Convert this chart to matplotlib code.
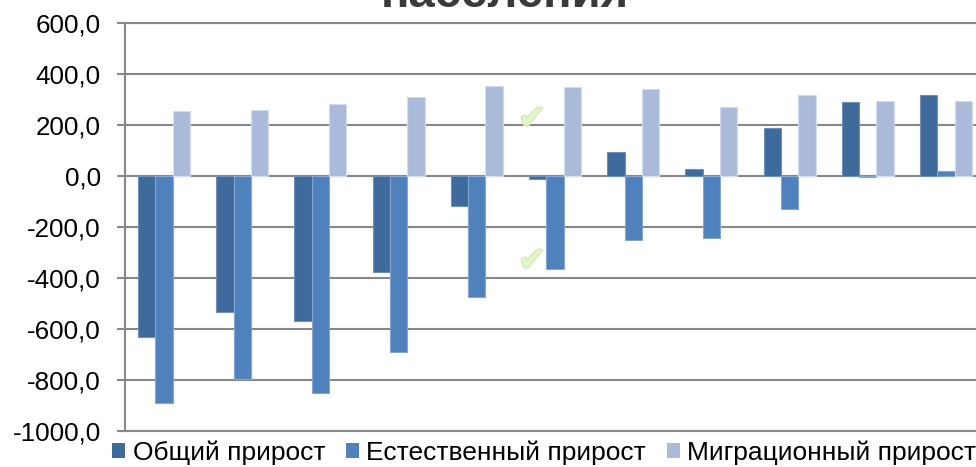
import numpy as np
from matplotlib import pyplot as plt
from matplotlib.patches import Patch
from matplotlib.ticker import FuncFormatter
import matplotlib.patheffects as pe

# Values
total = [-632, -535, -568, -377, -116, -12, 94, 29, 189, 290, 318]
natural = [-893, -798, -851, -693, -474, -364, -251, -242, -131, -4, 21]
migration = [257, 259, 282, 312, 354, 351, 343, 270, 318, 294, 295]
series_names = ['Общий прирост', 'Естественный прирост', 'Миграционный прирост']
colors = ['#3e6a9c', '#4f81bd', '#aabbd9']
edges = ['#6f90b8', '#86a6d2', '#d2dcee']
yticks = [-1000, -800, -600, -400, -200, 0, 200, 400, 600]

plt.rcParams['font.family'] = ['Liberation Sans', 'DejaVu Sans']

fig = plt.figure(figsize=(9.76, 4.67), dpi=100)
ax = fig.add_axes([125 / 976, 36.5 / 467, 860 / 976, 407.2 / 467])

x = np.arange(len(total))
w = 0.2215
for i, vals in enumerate([total, natural, migration]):
    ax.bar(x + (i - 1) * w, vals, width=w, color=colors[i],
           edgecolor=edges[i], linewidth=0.8, zorder=3)

ax.set_xlim(-0.5, len(total) - 0.5)
ax.set_ylim(-1000, 600)
ax.set_yticks(yticks)
ax.yaxis.set_major_formatter(FuncFormatter(lambda v, p: f'{v:.1f}'.replace('.', ',')))
ax.set_xticks([])
ax.yaxis.grid(True, color='#878787', linewidth=1.5)
ax.set_axisbelow(True)
for s in ['top', 'bottom', 'left']:
    ax.spines[s].set_color('#878787')
    ax.spines[s].set_linewidth(1.5)
ax.spines['right'].set_visible(False)
ax.tick_params(axis='y', length=6, width=1.5, color='#878787',
               labelsize=18.7, pad=11.5)

# watermark check marks
for yy in [119, 261]:
    fig.text(532 / 976, 1 - yy / 467, '\u2714', fontsize=24, color='#e2f5c9',
             ha='center', va='center', family='DejaVu Sans',
             path_effects=[pe.withStroke(linewidth=1.5, foreground='#cfe6b3')])

fig.text(505 / 976, 1 - 7 / 467, 'населения', fontsize=34, fontweight='bold',
         color='#3a3a3a', ha='center', va='baseline')

handles = [Patch(facecolor=c, edgecolor='none') for c in colors]
fig.legend(handles, series_names, loc='center left',
           bbox_to_anchor=(112 / 976, 14 / 467), ncol=3, frameon=False,
           fontsize=19.0, handlelength=0.5, handleheight=0.5,
           handletextpad=0.28, columnspacing=0.78, borderpad=0,
           borderaxespad=0)

plt.savefig('out.png', dpi=100)
